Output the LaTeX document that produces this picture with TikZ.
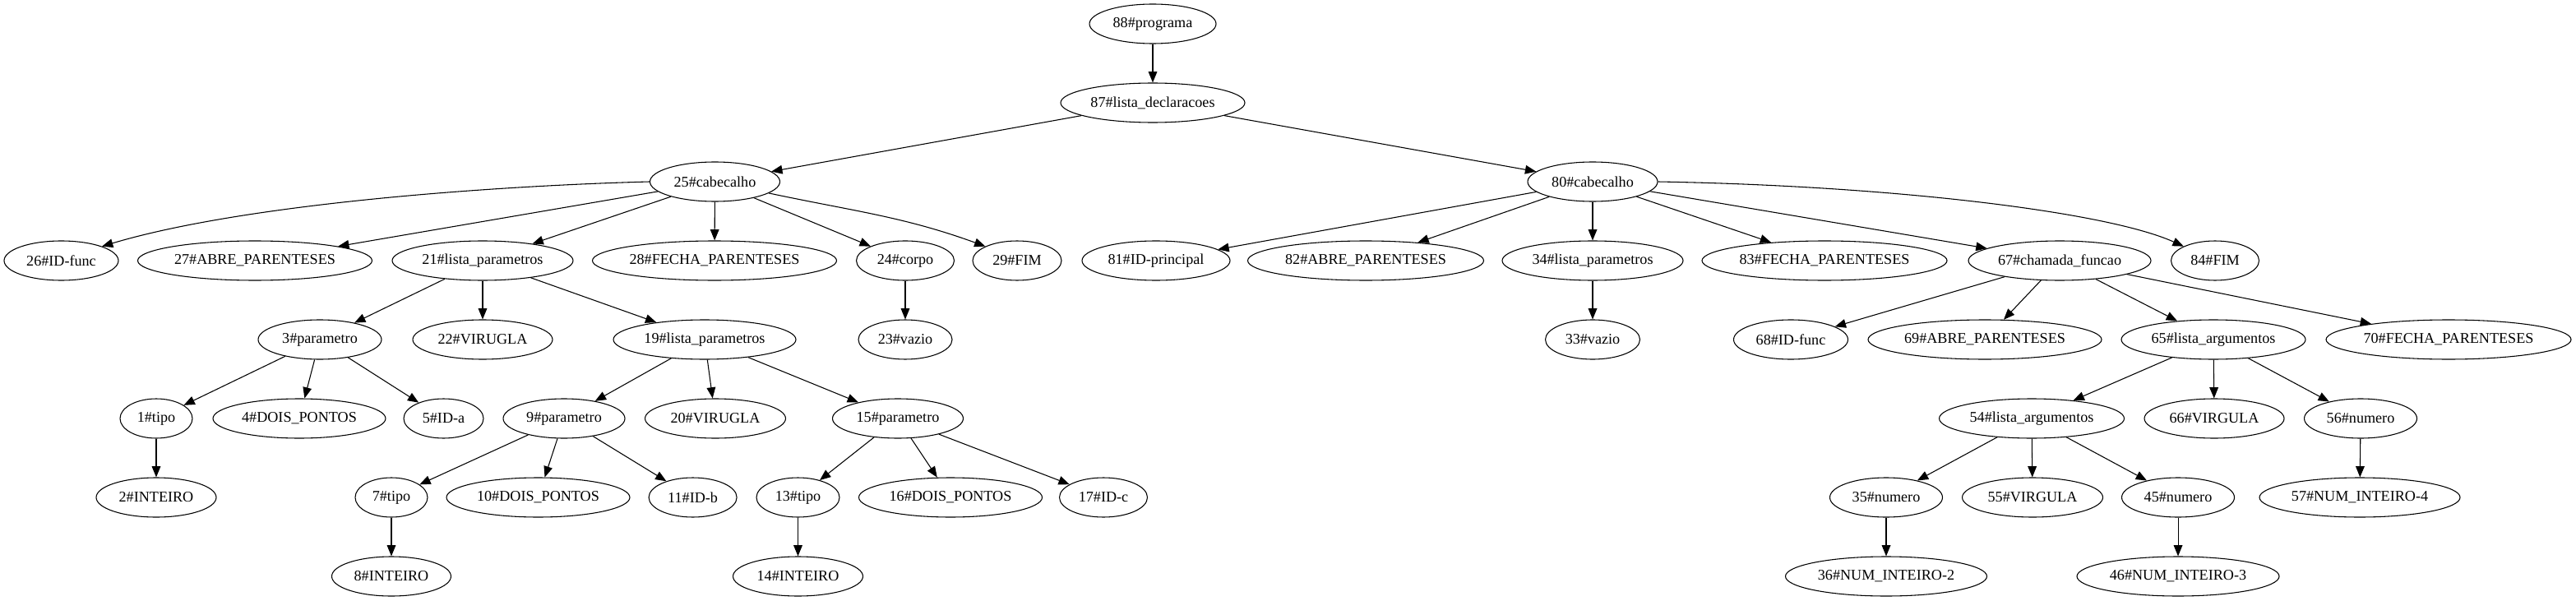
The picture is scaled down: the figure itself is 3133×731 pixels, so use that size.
\documentclass[tikz,border=0pt]{standalone}
\usepackage{fontspec}
\setmainfont{Liberation Serif}
\usetikzlibrary{shapes.geometric,arrows.meta}
\tikzset{
  gv/.style={draw, ellipse, line width=0.8pt, inner sep=0pt, minimum height=36pt,
    font=\fontsize{13.6pt}{16pt}\selectfont},
  arr/.style={-{Triangle[length=10pt,width=8pt]}, line width=0.8pt}
}
\begin{document}
\begin{tikzpicture}[x=0.75pt,y=-0.75pt]
\useasboundingbox (0,0) rectangle (3133,731);
% row 0
\node[gv, minimum width=115.5pt] (n88) at (1402,29) {88\#programa};
% row 1
\node[gv, minimum width=168pt] (n87) at (1402,125) {87\#lista\_declaracoes};
% row 2
\node[gv, minimum width=118.5pt] (n25) at (869.5,221) {25\#cabecalho};
\node[gv, minimum width=118.5pt] (n80) at (1937,221) {80\#cabecalho};
% row 3
\node[gv, minimum width=104.25pt] (n26) at (74.5,317) {26\#ID-func};
\node[gv, minimum width=213.75pt] (n27) at (310,317) {27\#ABRE\_PARENTESES};
\node[gv, minimum width=165pt] (n21) at (587,317) {21\#lista\_parametros};
\node[gv, minimum width=222.75pt] (n28) at (869,317) {28\#FECHA\_PARENTESES};
\node[gv, minimum width=89.25pt] (n24) at (1101,317) {24\#corpo};
\node[gv, minimum width=81pt] (n29) at (1237,317) {29\#FIM};
\node[gv, minimum width=135pt] (n81) at (1406,317) {81\#ID-principal};
\node[gv, minimum width=215.25pt] (n82) at (1661,317) {82\#ABRE\_PARENTESES};
\node[gv, minimum width=165pt] (n34) at (1937,317) {34\#lista\_parametros};
\node[gv, minimum width=223.5pt] (n83) at (2219,317) {83\#FECHA\_PARENTESES};
\node[gv, minimum width=166.5pt] (n67) at (2505,317) {67\#chamada\_funcao};
\node[gv, minimum width=80.25pt] (n84) at (2694,317) {84\#FIM};
% row 4
\node[gv, minimum width=112.5pt] (n3) at (389,413) {3\#parametro};
\node[gv, minimum width=127.5pt] (n22) at (587,413) {22\#VIRUGLA};
\node[gv, minimum width=166.5pt] (n19) at (857,413) {19\#lista\_parametros};
\node[gv, minimum width=85.5pt] (n23) at (1101,413) {23\#vazio};
\node[gv, minimum width=86.25pt] (n33) at (1937,413) {33\#vazio};
\node[gv, minimum width=104.25pt] (n68) at (2178,413) {68\#ID-func};
\node[gv, minimum width=213pt] (n69) at (2414,413) {69\#ABRE\_PARENTESES};
\node[gv, minimum width=168pt] (n65) at (2692,413) {65\#lista\_argumentos};
\node[gv, minimum width=223.5pt] (n70) at (2978,413) {70\#FECHA\_PARENTESES};
% row 5
\node[gv, minimum width=66pt] (n1) at (190,509) {1\#tipo};
\node[gv, minimum width=157.5pt] (n4) at (364,509) {4\#DOIS\_PONTOS};
\node[gv, minimum width=72.75pt] (n5) at (539.5,509) {5\#ID-a};
\node[gv, minimum width=111pt] (n9) at (686,509) {9\#parametro};
\node[gv, minimum width=128.25pt] (n20) at (870,509) {20\#VIRUGLA};
\node[gv, minimum width=119.25pt] (n15) at (1092,509) {15\#parametro};
\node[gv, minimum width=168.75pt] (n54) at (2471,509) {54\#lista\_argumentos};
\node[gv, minimum width=127.5pt] (n66) at (2693,509) {66\#VIRGULA};
\node[gv, minimum width=102.75pt] (n56) at (2871,509) {56\#numero};
% row 6
\node[gv, minimum width=109.5pt] (n2) at (190,605) {2\#INTEIRO};
\node[gv, minimum width=66pt] (n7) at (476,605) {7\#tipo};
\node[gv, minimum width=167.25pt] (n10) at (654.5,605) {10\#DOIS\_PONTOS};
\node[gv, minimum width=80.25pt] (n11) at (842.6,605) {11\#ID-b};
\node[gv, minimum width=75.75pt] (n13) at (970.5,605) {13\#tipo};
\node[gv, minimum width=167.25pt] (n16) at (1156,605) {16\#DOIS\_PONTOS};
\node[gv, minimum width=80.25pt] (n17) at (1342,605) {17\#ID-c};
\node[gv, minimum width=102.75pt] (n35) at (2294,605) {35\#numero};
\node[gv, minimum width=128.25pt] (n55) at (2472,605) {55\#VIRGULA};
\node[gv, minimum width=102.75pt] (n45) at (2649,605) {45\#numero};
\node[gv, minimum width=183pt] (n57) at (2870,605) {57\#NUM\_INTEIRO-4};
% row 7
\node[gv, minimum width=108.75pt] (n8) at (476,701) {8\#INTEIRO};
\node[gv, minimum width=118.5pt] (n14) at (970.5,701) {14\#INTEIRO};
\node[gv, minimum width=183.75pt] (n36) at (2294,701) {36\#NUM\_INTEIRO-2};
\node[gv, minimum width=184.5pt] (n46) at (2649,701) {46\#NUM\_INTEIRO-3};
% edges
\draw[arr] (n88) -- (n87);
\draw[arr] (n87) -- (n25);
\draw[arr] (n87) -- (n80);
\draw[arr] (n25.west) .. controls +(-190,5) and +(174,-52) .. (n26.north east);
\draw[arr] (n25) -- (n27);
\draw[arr] (n25) -- (n21);
\draw[arr] (n25) -- (n28);
\draw[arr] (n25) -- (n24);
\draw[arr] (n25) to[out=-12,in=160] (n29.north west);
\draw[arr] (n21) -- (n3);
\draw[arr] (n21) -- (n22);
\draw[arr] (n21) -- (n19);
\draw[arr] (n3) -- (n1);
\draw[arr] (n3) -- (n4);
\draw[arr] (n3) -- (n5);
\draw[arr] (n1) -- (n2);
\draw[arr] (n19) -- (n9);
\draw[arr] (n19) -- (n20);
\draw[arr] (n19) -- (n15);
\draw[arr] (n9) -- (n7);
\draw[arr] (n9) -- (n10);
\draw[arr] (n9) -- (n11);
\draw[arr] (n7) -- (n8);
\draw[arr] (n15) -- (n13);
\draw[arr] (n15) -- (n16);
\draw[arr] (n15) -- (n17);
\draw[arr] (n13) -- (n14);
\draw[arr] (n24) -- (n23);
\draw[arr] (n80) -- (n81);
\draw[arr] (n80) -- (n82);
\draw[arr] (n80) -- (n34);
\draw[arr] (n80) -- (n83);
\draw[arr] (n80) -- (n67);
\draw[arr] (n80.east) .. controls +(286,5) and +(-93,-42) .. (n84.north west);
\draw[arr] (n34) -- (n33);
\draw[arr] (n67) -- (n68);
\draw[arr] (n67) -- (n69);
\draw[arr] (n67) -- (n65);
\draw[arr] (n67) -- (n70);
\draw[arr] (n65) -- (n54);
\draw[arr] (n65) -- (n66);
\draw[arr] (n65) -- (n56);
\draw[arr] (n54) -- (n35);
\draw[arr] (n54) -- (n55);
\draw[arr] (n54) -- (n45);
\draw[arr] (n35) -- (n36);
\draw[arr] (n45) -- (n46);
\draw[arr] (n56) -- (n57);
\end{tikzpicture}
\end{document}
